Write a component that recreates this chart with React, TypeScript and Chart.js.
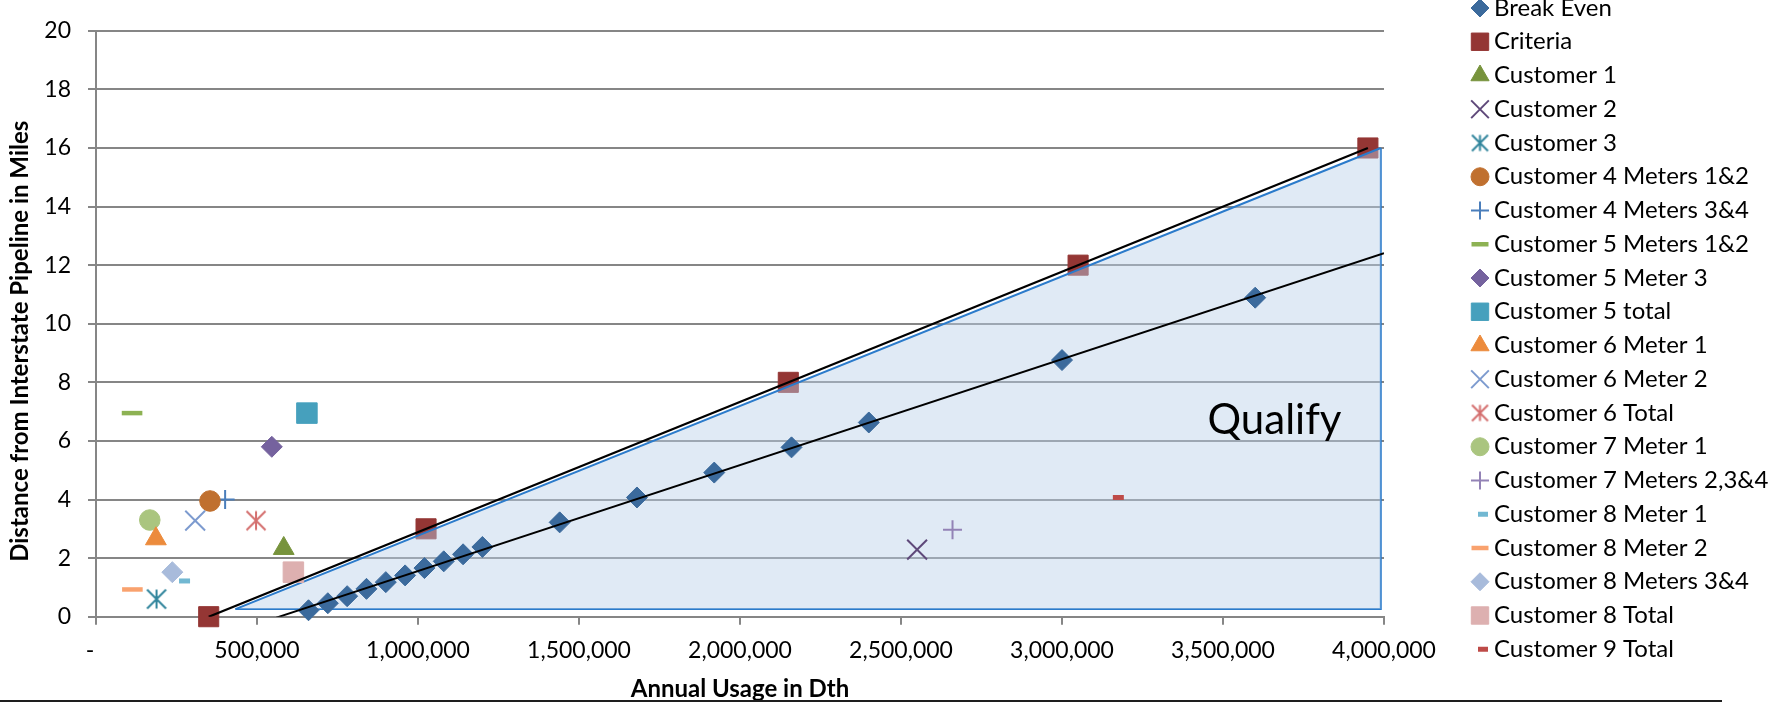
import React, { useEffect, useRef } from 'react';
import { Chart, registerables, PointElement } from 'chart.js';

Chart.register(...registerables);
Chart.defaults.font.family = 'Lato';

// ---------- axes ----------
const X_MIN = 0;
const X_MAX = 4000000;
const X_STEP = 500000;
const Y_MIN = 0;
const Y_MAX = 20;
const Y_STEP = 2;

// ---------- data ----------
const breakEvenX = [660000, 720000, 780000, 840000, 900000, 960000, 1020000, 1080000, 1140000, 1200000, 1440000, 1680000, 1920000, 2160000, 2400000, 3000000, 3600000];
const breakEvenY = [0.22, 0.46, 0.7, 0.95, 1.18, 1.41, 1.66, 1.89, 2.13, 2.38, 3.22, 4.07, 4.92, 5.78, 6.63, 8.76, 10.89];

const criteriaX = [350000, 1025000, 2150000, 3050000, 3950000];
const criteriaY = [0, 3, 8, 12, 16];

const customerLabels = [
  'Customer 1',
  'Customer 2',
  'Customer 3',
  'Customer 4 Meters 1&2',
  'Customer 4 Meters 3&4',
  'Customer 5 Meters 1&2',
  'Customer 5 Meter 3',
  'Customer 5 total',
  'Customer 6 Meter 1',
  'Customer 6 Meter 2',
  'Customer 6 Total',
  'Customer 7 Meter 1',
  'Customer 7 Meters 2,3&4',
  'Customer 8 Meter 1',
  'Customer 8 Meter 2',
  'Customer 8 Meters 3&4',
  'Customer 8 Total',
  'Customer 9 Total',
];
const customerX = [583000, 2550000, 188000, 354000, 401000, 112000, 546000, 655000, 186000, 308000, 497000, 167000, 2660000, 275000, 113000, 237000, 613000, 3175000];
const customerY = [2.33, 2.29, 0.6, 3.95, 4.0, 6.95, 5.8, 6.95, 2.66, 3.28, 3.28, 3.3, 2.97, 1.22, 0.93, 1.52, 1.52, 4.07];

// shaded "Qualify" region: lower-left corner and upper-right corner
const qualifyX = [433000, 3990000];
const qualifyY = [0.26, 16];
const qualifyText = 'Qualify';
const qualifyLabelX = 3660000;
const qualifyLabelY = 6.7;

// trendline forecast (backward / forward) for the break-even series
const BE_TREND_BACK = 100000;
const BE_TREND_FWD = 400000;

// ---------- styles ----------
type MarkStyle = { style: string; color: string; r: number; lr: number; bw?: number; ldx?: number };
const breakEvenStyle: MarkStyle = { style: 'rectRot', color: '#3B6A9C', r: 10.5, lr: 9 };
const criteriaStyle: MarkStyle = { style: 'rect', color: '#943634', r: 14.2, lr: 12.3 };
const customerStyles: MarkStyle[] = [
  { style: 'triangle', color: '#77933C', r: 12, lr: 10.5 },
  { style: 'crossRot', color: '#5F497A', r: 14, lr: 12.5, bw: 2 },
  { style: 'asterisk', color: '#31859C', r: 20, lr: 17, bw: 2 },
  { style: 'circle', color: '#C0702F', r: 10.3, lr: 9 },
  { style: 'cross', color: '#4A7EBB', r: 9.5, lr: 9, bw: 2 },
  { style: 'line', color: '#8DB253', r: 10.3, lr: 8.5, bw: 4.5 },
  { style: 'rectRot', color: '#75629E', r: 10.5, lr: 9 },
  { style: 'rect', color: '#46A0BD', r: 14.5, lr: 12.3 },
  { style: 'triangle', color: '#EC8B3C', r: 12, lr: 10.5 },
  { style: 'crossRot', color: '#7D9BCF', r: 14, lr: 12.5, bw: 2 },
  { style: 'asterisk', color: '#D46F6E', r: 20, lr: 17, bw: 2 },
  { style: 'circle', color: '#AAC57F', r: 10.3, lr: 9 },
  { style: 'cross', color: '#9383B6', r: 9.5, lr: 9, bw: 2 },
  { style: 'line', color: '#72B8D2', r: 5.5, lr: 5, bw: 5, ldx: 3 },
  { style: 'line', color: '#F9A26E', r: 10.3, lr: 8.5, bw: 4.5 },
  { style: 'rectRot', color: '#A8BBDB', r: 10.5, lr: 9 },
  { style: 'rect', color: '#DDB0B0', r: 14.5, lr: 12.3 },
  { style: 'line', color: '#BE4B48', r: 5.5, lr: 5, bw: 5, ldx: 3 },
];

const GRID = '#868686';
const AREA_LINE = '#2B7BCB';
const AREA_FILL = 'rgba(186,208,232,0.45)';
const FONT_TICK = 23;
const FONT_LEGEND = 24;

const LEGEND_TOP = 8;
const LEGEND_STEP = 33.75;
const LEGEND_MARK_X = 1480;
const LEGEND_TEXT_X = 1494;

function makeAsterisk(color: string, size: number, lw: number): HTMLCanvasElement {
  const c = document.createElement('canvas');
  const s = Math.ceil(size) + 2;
  c.width = s;
  c.height = s;
  const g = c.getContext('2d')!;
  const m = s / 2;
  const h = size / 2 - 0.5;
  g.strokeStyle = color;
  g.lineWidth = lw;
  g.beginPath();
  g.moveTo(m - h, m - h); g.lineTo(m + h, m + h);
  g.moveTo(m + h, m - h); g.lineTo(m - h, m + h);
  g.moveTo(m, m - h); g.lineTo(m, m + h);
  g.stroke();
  return c;
}

function fitLine(xs: number[], ys: number[]) {
  const n = xs.length;
  const mx = xs.reduce((a, b) => a + b, 0) / n;
  const my = ys.reduce((a, b) => a + b, 0) / n;
  let sxy = 0, sxx = 0;
  for (let i = 0; i < n; i++) {
    sxy += (xs[i] - mx) * (ys[i] - my);
    sxx += (xs[i] - mx) * (xs[i] - mx);
  }
  const m = sxy / sxx;
  return { m, b: my - m * mx };
}

function pts(xs: number[], ys: number[]) {
  return xs.map((x, i) => ({ x, y: ys[i] }));
}

export default function App() {
  const ref = useRef<HTMLCanvasElement>(null);

  useEffect(() => {
    const canvas = ref.current;
    if (!canvas) return;

    const resolveStyle = (s: MarkStyle, legend: boolean): any =>
      s.style === 'asterisk' ? makeAsterisk(s.color, legend ? s.lr : s.r, s.bw || 2) : s.style;

    const markerDataset = (label: string, xs: number[], ys: number[], s: MarkStyle, order: number) => ({
      type: 'scatter' as const,
      label,
      data: pts(xs, ys),
      showLine: false,
      pointStyle: resolveStyle(s, false),
      pointRadius: s.r,
      pointHoverRadius: s.r,
      pointBackgroundColor: s.color,
      pointBorderColor: s.color,
      pointBorderWidth: s.bw || 1,
      clip: false as any,
      order,
    });

    const beFit = fitLine(breakEvenX, breakEvenY);
    const beX0 = Math.min(...breakEvenX) - BE_TREND_BACK;
    const beX1 = Math.max(...breakEvenX) + BE_TREND_FWD;
    const crFit = fitLine(criteriaX, criteriaY);
    const crX0 = Math.min(...criteriaX);
    const crX1 = Math.max(...criteriaX);

    const datasets: any[] = [
      markerDataset('Break Even', breakEvenX, breakEvenY, breakEvenStyle, 1),
      markerDataset('Criteria', criteriaX, criteriaY, criteriaStyle, 10),
      ...customerLabels.map((lab, i) => markerDataset(lab, [customerX[i]], [customerY[i]], customerStyles[i], 1)),
      {
        type: 'line',
        label: 'Qualify area',
        data: [
          { x: qualifyX[0], y: qualifyY[0] },
          { x: qualifyX[1], y: qualifyY[1] },
        ],
        borderColor: AREA_LINE,
        borderWidth: 2,
        backgroundColor: AREA_FILL,
        fill: { value: qualifyY[0] },
        pointRadius: 0,
        tension: 0,
        order: 5,
      },
      {
        type: 'line',
        label: 'Qualify edge',
        data: [
          { x: qualifyX[0], y: qualifyY[0] },
          { x: qualifyX[1], y: qualifyY[0] },
          { x: qualifyX[1], y: qualifyY[1] },
        ],
        borderColor: AREA_LINE,
        borderWidth: 2,
        fill: false,
        pointRadius: 0,
        tension: 0,
        order: 5,
      },
      {
        type: 'line',
        label: 'Break Even trend',
        data: [
          { x: beX0, y: beFit.m * beX0 + beFit.b },
          { x: beX1, y: beFit.m * beX1 + beFit.b },
        ],
        borderColor: '#000000',
        borderWidth: 2,
        fill: false,
        pointRadius: 0,
        order: -1,
      },
      {
        type: 'line',
        label: 'Criteria trend',
        data: [
          { x: crX0, y: crFit.m * crX0 + crFit.b },
          { x: crX1, y: crFit.m * crX1 + crFit.b },
        ],
        borderColor: '#000000',
        borderWidth: 2.3,
        fill: false,
        pointRadius: 0,
        order: -1,
      },
    ];

    const legendItems = [
      { label: 'Break Even', s: breakEvenStyle },
      { label: 'Criteria', s: criteriaStyle },
      ...customerLabels.map((label, i) => ({ label, s: customerStyles[i] })),
    ];

    const customLegend = {
      id: 'customLegend',
      afterDraw(chart: any) {
        const ctx = chart.ctx;
        ctx.save();
        legendItems.forEach((item, i) => {
          const y = LEGEND_TOP + i * LEGEND_STEP;
          const p: any = new PointElement({} as any);
          p.x = LEGEND_MARK_X + (item.s.ldx || 0);
          p.y = y;
          p.options = {
            pointStyle: resolveStyle(item.s, true),
            radius: item.s.lr,
            rotation: 0,
            borderWidth: item.s.bw || 1,
            backgroundColor: item.s.color,
            borderColor: item.s.color,
          };
          p.draw(ctx);
          ctx.fillStyle = '#000000';
          ctx.font = `${FONT_LEGEND}px Lato`;
          ctx.textAlign = 'left';
          ctx.textBaseline = 'middle';
          ctx.fillText(item.label, LEGEND_TEXT_X, y);
        });
        ctx.restore();
      },
    };

    const qualifyLabel = {
      id: 'qualifyLabel',
      afterDatasetsDraw(chart: any) {
        const ctx = chart.ctx;
        const xs = chart.scales.x;
        const ys = chart.scales.y;
        ctx.save();
        ctx.fillStyle = '#000000';
        ctx.font = '42px Lato';
        ctx.textAlign = 'center';
        ctx.textBaseline = 'middle';
        ctx.fillText(qualifyText, xs.getPixelForValue(qualifyLabelX), ys.getPixelForValue(qualifyLabelY));
        ctx.restore();
      },
    };

    const chart = new Chart(canvas, {
      type: 'scatter',
      data: { datasets },
      options: {
        animation: false,
        responsive: true,
        maintainAspectRatio: false,
        layout: { padding: { left: 0, right: 406, top: 17, bottom: 0 } },
        plugins: {
          legend: { display: false },
          tooltip: { enabled: false },
        },
        scales: {
          x: {
            type: 'linear',
            min: X_MIN,
            max: X_MAX,
            ticks: {
              stepSize: X_STEP,
              autoSkip: false,
              maxRotation: 0,
              color: '#000000',
              padding: 12,
              font: { size: FONT_TICK },
              callback: (v: any) => (Number(v) === 0 ? '-  ' : Number(v).toLocaleString('en-US')),
            },
            grid: { drawOnChartArea: false, drawTicks: true, tickLength: 8, color: GRID, lineWidth: 2 },
            border: { display: true, color: GRID, width: 2 },
            title: {
              display: true,
              text: 'Annual Usage in Dth',
              color: '#000000',
              font: { size: 24, weight: 'bold', lineHeight: 0.9 },
              padding: { top: 0, bottom: 0 },
            },
            afterFit: (s: any) => {
              s.height = 83.3;
            },
          },
          y: {
            type: 'linear',
            min: Y_MIN,
            max: Y_MAX,
            ticks: {
              stepSize: Y_STEP,
              color: '#000000',
              padding: 17,
              font: { size: FONT_TICK },
            },
            grid: { color: GRID, lineWidth: 2, tickLength: 8 },
            border: { display: true, color: GRID, width: 2 },
            title: {
              display: true,
              text: 'Distance from Interstate Pipeline in Miles      ',
              color: '#000000',
              font: { size: 24, weight: 'bold', lineHeight: 1.2 },
              padding: { top: 6, bottom: 0 },
            },
            afterFit: (s: any) => {
              s.width = 96;
            },
          },
        },
      } as any,
      plugins: [qualifyLabel, customLegend],
    });

    return () => chart.destroy();
  }, []);

  return (
    <div>
      <div style={{ position: 'fixed', left: 0, top: 0, width: 1790, height: 700 }}>
        <canvas ref={ref} />
      </div>
      <div style={{ position: 'fixed', left: 0, top: 700, width: 1722, height: 2, background: '#1e1e1e' }} />
    </div>
  );
}
